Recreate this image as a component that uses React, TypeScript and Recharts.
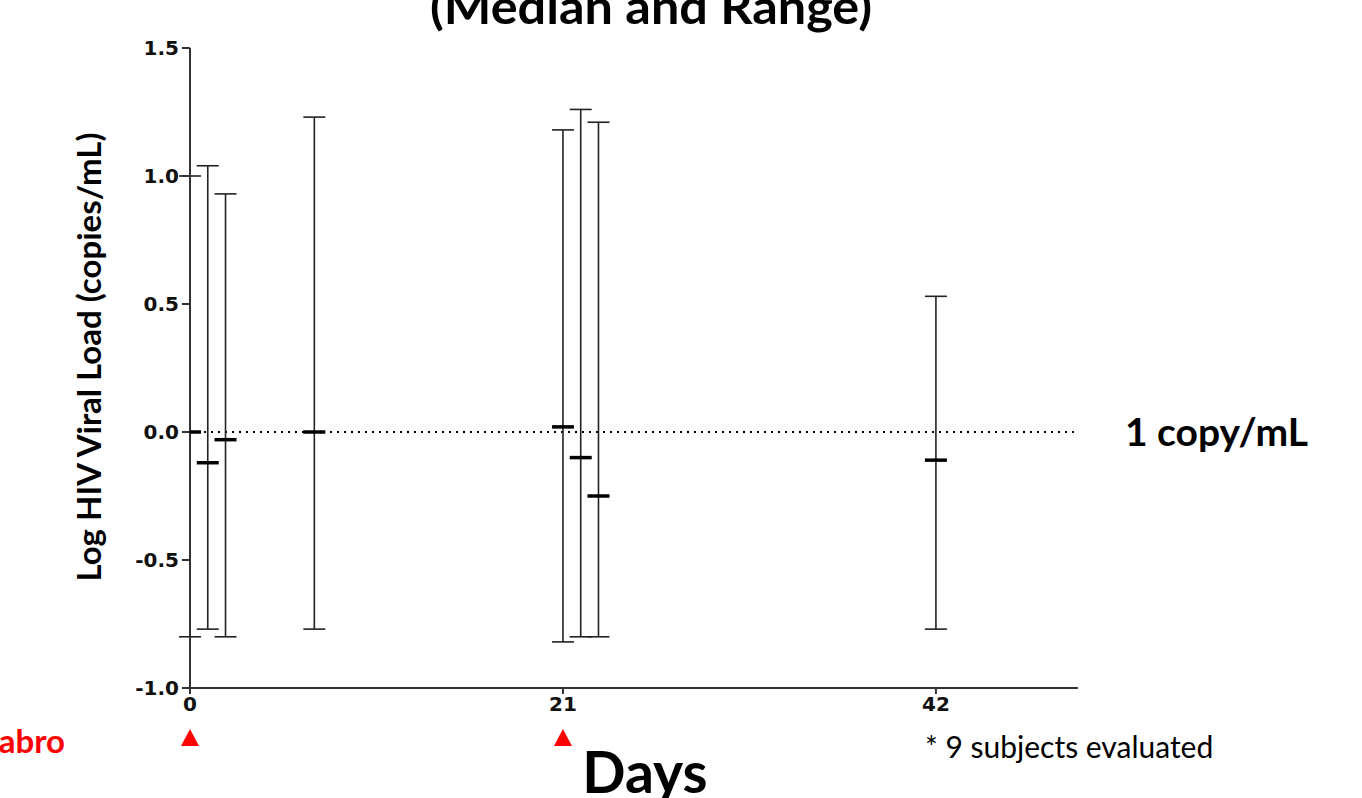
import {
  ComposedChart,
  Scatter,
  ErrorBar,
  XAxis,
  YAxis,
  ReferenceLine,
  ReferenceDot,
  Customized,
} from "recharts";

// study days sampled
const days = [0, 1, 2, 7, 21, 22, 23, 42];
// log viral load: median, min, max per day
const medians = [0.0, -0.12, -0.03, 0.0, 0.02, -0.1, -0.25, -0.11];
const mins = [-0.8, -0.77, -0.8, -0.77, -0.82, -0.8, -0.8, -0.77];
const maxs = [1.0, 1.04, 0.93, 1.23, 1.18, 1.26, 1.21, 0.53];

const xTicks = [0, 21, 42];
const yTicks = [-1.0, -0.5, 0.0, 0.5, 1.0, 1.5];
const dosingDays = [0, 21];

const rows = days.map((d, i) => ({
  day: d,
  median: medians[i],
  range: [medians[i] - mins[i], maxs[i] - medians[i]],
}));

const AXIS = "#333";
const TICK_FONT = { fontFamily: "DejaVu Sans", fontWeight: 700, fontSize: 20, fill: "#111" };
const LABEL_FONT = "Lato, 'Open Sans', sans-serif";

const MedianMark = (props: any) => {
  const { cx, cy } = props;
  return <line x1={cx - 11} x2={cx + 11} y1={cy} y2={cy} stroke="#000" strokeWidth={3.5} />;
};

const Triangle = (props: any) => {
  const { cx, cy } = props;
  return <path d={`M${cx - 9},${cy + 8} L${cx + 9},${cy + 8} L${cx},${cy - 9} Z`} fill="#ff0000" />;
};

const Annotations = () => (
  <g fontFamily={LABEL_FONT}>
    <text
      x={651}
      y={24}
      textAnchor="middle"
      fontSize={47}
      fontWeight={700}
      fill="#000"
      textLength={442}
      lengthAdjust="spacingAndGlyphs"
    >
      (Median and Range)
    </text>
    <text
      x={0}
      y={0}
      transform="translate(101,357) rotate(-90)"
      textAnchor="middle"
      fontSize={33}
      fontWeight={700}
      fill="#000"
    >
      Log HIV Viral Load (copies/mL)
    </text>
    <text x={645} y={793} textAnchor="middle" fontSize={57} fontWeight={700} fill="#000">
      Days
    </text>
    <text x={65} y={753} textAnchor="end" fontSize={33} fontWeight={700} fill="#ff0000">
      abro
    </text>
    <text x={925} y={758} fontSize={30} fill="#000">
      * 9 subjects evaluated
    </text>
  </g>
);

export default function App() {
  return (
    <div style={{ position: "absolute", left: 0, top: 0, background: "#fff" }}>
      <ComposedChart
        width={1362}
        height={798}
        data={rows}
        margin={{ top: 48, right: 284, bottom: 0, left: 0 }}
      >
        <XAxis
          dataKey="day"
          type="number"
          domain={[0, 50]}
          ticks={xTicks}
          tick={TICK_FONT}
          tickSize={6}
          tickMargin={3}
          height={110}
          stroke={AXIS}
          strokeWidth={2}
          allowDataOverflow
        />
        <YAxis
          type="number"
          domain={[-1, 1.5]}
          ticks={yTicks}
          tickFormatter={(v: number) => v.toFixed(1)}
          tick={TICK_FONT}
          tickSize={8}
          tickMargin={3}
          width={190}
          stroke={AXIS}
          strokeWidth={2}
          allowDataOverflow
        />
        <ReferenceLine
          y={0}
          stroke="#000"
          strokeWidth={2}
          strokeDasharray="2 5"
          label={{
            value: "1 copy/mL",
            position: "right",
            offset: 47,
            fontFamily: LABEL_FONT,
            fontSize: 39,
            fontWeight: 700,
            fill: "#000",
          }}
        />
        <Scatter dataKey="median" shape={MedianMark} isAnimationActive={false}>
          <ErrorBar dataKey="range" direction="y" width={11} stroke="#222" strokeWidth={1.6} />
        </Scatter>
        {dosingDays.map((d) => (
          <ReferenceDot
            key={d}
            x={d}
            y={-1.195}
            ifOverflow="visible"
            shape={Triangle}
          />
        ))}
        <Customized component={Annotations} />
      </ComposedChart>
    </div>
  );
}
